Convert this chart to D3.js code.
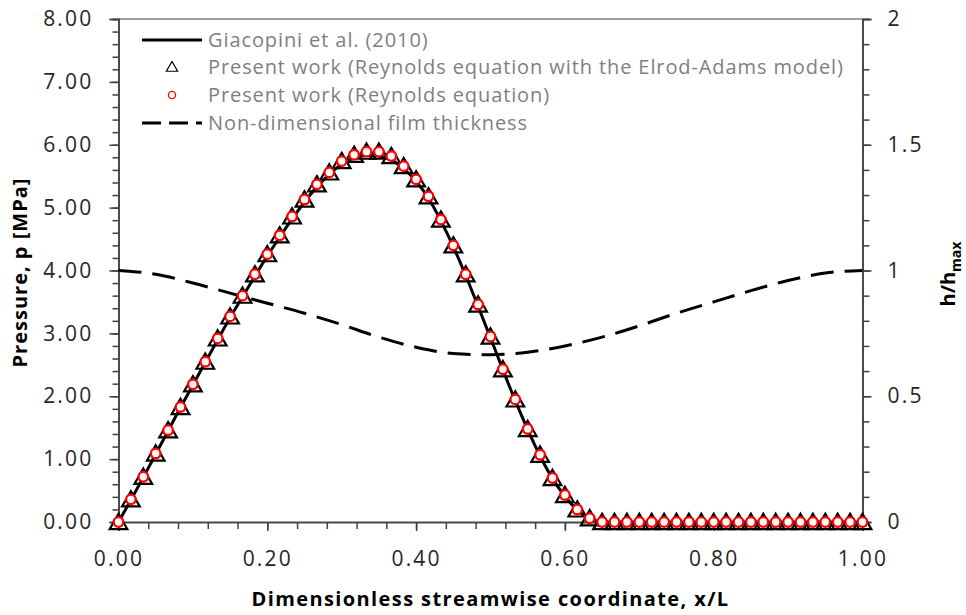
<!DOCTYPE html>
<html>
<head>
<meta charset="utf-8">
<script src="https://cdn.jsdelivr.net/npm/d3@7"></script>
<style>
  body { margin: 0; background: #fff; }
  svg text { font-family: "Open Sans", "Noto Sans", sans-serif; }
</style>
</head>
<body>
<svg id="chart" width="966" height="615"></svg>
<script>
// streamwise positions of the simulation nodes (x/L), 61 points
const xNodes = d3.range(61).map(i => i / 60);

// pressure [MPa], one value per node
const reynoldsP = [0, 0.36, 0.72, 1.09, 1.46, 1.83, 2.19, 2.55, 2.92, 3.27,
  3.60, 3.94, 4.26, 4.56, 4.86, 5.13, 5.37, 5.56, 5.74, 5.84,
  5.89, 5.89, 5.82, 5.66, 5.45, 5.18, 4.81, 4.40, 3.94, 3.46,
  2.95, 2.43, 1.95, 1.48, 1.07, 0.70, 0.43, 0.20, 0.06, 0,
  0, 0, 0, 0, 0, 0, 0, 0, 0, 0,
  0, 0, 0, 0, 0, 0, 0, 0, 0, 0, 0];
const elrodP = [0, 0.36, 0.72, 1.09, 1.46, 1.83, 2.19, 2.55, 2.92, 3.27,
  3.60, 3.94, 4.26, 4.56, 4.86, 5.13, 5.37, 5.56, 5.74, 5.84,
  5.89, 5.89, 5.82, 5.66, 5.45, 5.18, 4.81, 4.40, 3.94, 3.46,
  2.95, 2.43, 1.95, 1.48, 1.07, 0.70, 0.43, 0.20, 0.06, 0,
  0, 0, 0, 0, 0, 0, 0, 0, 0, 0,
  0, 0, 0, 0, 0, 0, 0, 0, 0, 0, 0];

// Giacopini et al. (2010) reference curve, same nodes
const giacopiniP = [0, 0.35, 0.71, 1.08, 1.45, 1.82, 2.18, 2.54, 2.90, 3.25,
  3.58, 3.91, 4.23, 4.53, 4.82, 5.09, 5.33, 5.53, 5.69, 5.79,
  5.83, 5.82, 5.76, 5.62, 5.42, 5.15, 4.79, 4.38, 3.92, 3.43,
  2.93, 2.42, 1.93, 1.47, 1.05, 0.69, 0.41, 0.19, 0.05, 0,
  0, 0, 0, 0, 0, 0, 0, 0, 0, 0,
  0, 0, 0, 0, 0, 0, 0, 0, 0, 0, 0];

// non-dimensional film thickness h/hmax (right axis)
const filmX = [0, 0.05, 0.10, 0.15, 0.20, 0.25, 0.30, 0.35, 0.40, 0.45, 0.50,
  0.55, 0.60, 0.65, 0.70, 0.75, 0.80, 0.85, 0.90, 0.95, 1.00];
const filmH = [1.0, 0.985, 0.95, 0.91, 0.87, 0.83, 0.785, 0.735, 0.695, 0.67, 0.665,
  0.675, 0.70, 0.735, 0.78, 0.83, 0.875, 0.92, 0.96, 0.99, 1.0];

const xTicks = [0, 0.2, 0.4, 0.6, 0.8, 1.0];
const pTicks = [0, 1, 2, 3, 4, 5, 6, 7, 8];
const hTicks = [0, 0.5, 1, 1.5, 2];
const hTickLabels = ["0", "0.5", "1", "1.5", "2"];

const legendLabels = [
  "Giacopini et al. (2010)",
  "Present work (Reynolds equation with the Elrod-Adams model)",
  "Present work (Reynolds equation)",
  "Non-dimensional film thickness"
];

const svg = d3.select("#chart");
const plotLeft = 118.5, plotRight = 862.5, plotTop = 19, plotBottom = 522;
const axisColor = "#404040";

const x = d3.scaleLinear().domain([0, 1]).range([plotLeft, plotRight]);
const yP = d3.scaleLinear().domain([0, 8]).range([plotBottom, plotTop]);
const yH = d3.scaleLinear().domain([0, 2]).range([plotBottom, plotTop]);

// top border
svg.append("line")
  .attr("x1", plotLeft).attr("x2", plotRight).attr("y1", plotTop).attr("y2", plotTop)
  .attr("stroke", "#7f7f7f").attr("stroke-width", 1.5);

function styleAxis(g) {
  g.select(".domain").attr("stroke", axisColor).attr("stroke-width", 1.5);
  g.selectAll(".tick line").attr("stroke", axisColor).attr("stroke-width", 1.5);
  g.selectAll(".tick text").attr("fill", "#262626").style("font-size", "21px")
    .style("letter-spacing", "2.2px")
    .style("font-family", "'Open Sans', sans-serif");
}

// minor ticks first
svg.append("g").attr("transform", `translate(0,${plotBottom})`)
  .call(d3.axisBottom(x).tickValues(d3.range(0, 1.0001, 0.04)).tickSize(7).tickFormat(""))
  .call(styleAxis);
svg.append("g").attr("transform", `translate(${plotLeft},0)`)
  .call(d3.axisLeft(yP).tickValues(d3.range(0, 8.001, 0.2)).tickSize(6).tickFormat(""))
  .call(styleAxis);
svg.append("g").attr("transform", `translate(${plotRight},0)`)
  .call(d3.axisRight(yH).tickValues(d3.range(0, 2.001, 0.1)).tickSize(7).tickFormat(""))
  .call(styleAxis);

// major ticks with labels
svg.append("g").attr("transform", `translate(0,${plotBottom})`)
  .call(d3.axisBottom(x).tickValues(xTicks).tickSize(9).tickPadding(20).tickFormat(d3.format(".2f")))
  .call(styleAxis);
svg.append("g").attr("transform", `translate(${plotLeft},0)`)
  .call(d3.axisLeft(yP).tickValues(pTicks).tickSize(9).tickPadding(16).tickFormat(d3.format(".2f")))
  .call(styleAxis);
svg.append("g").attr("transform", `translate(${plotRight},0)`)
  .call(d3.axisRight(yH).tickValues(hTicks).tickSize(9).tickPadding(16).tickFormat((d, i) => hTickLabels[i]))
  .call(styleAxis);

// axis titles
svg.append("text")
  .attr("x", (plotLeft + plotRight) / 2).attr("y", 606)
  .attr("text-anchor", "middle")
  .style("font-size", "20px").style("font-weight", "bold").style("letter-spacing", "1.4px")
  .text("Dimensionless streamwise coordinate, x/L");

svg.append("text")
  .attr("transform", `translate(27,${(plotTop + plotBottom) / 2 + 2}) rotate(-90)`)
  .attr("text-anchor", "middle")
  .style("font-size", "20px").style("font-weight", "bold").style("letter-spacing", "1px")
  .text("Pressure, p [MPa]");

const hLabel = svg.append("text")
  .attr("transform", `translate(955,274) rotate(-90)`)
  .attr("text-anchor", "middle")
  .style("font-size", "20px").style("font-weight", "bold");
hLabel.append("tspan").text("h/h");
hLabel.append("tspan").attr("dy", 6).style("font-size", "14px").text("max");

// film thickness (dashed, right axis)
svg.append("path")
  .datum(filmX.map((d, i) => [d, filmH[i]]))
  .attr("fill", "none").attr("stroke", "#000").attr("stroke-width", 3)
  .attr("stroke-dasharray", "23,11")
  .attr("d", d3.line().x(d => x(d[0])).y(d => yH(d[1])).curve(d3.curveMonotoneX));

// Elrod-Adams triangles
const tri = d3.symbol().type(d3.symbolTriangle).size(135);
svg.append("g").selectAll("path")
  .data(xNodes.map((d, i) => [d, elrodP[i]]))
  .join("path")
  .attr("transform", d => `translate(${x(d[0])},${yP(d[1]) + 2})`)
  .attr("d", tri)
  .attr("fill", "none").attr("stroke", "#000").attr("stroke-width", 2.2);

// Giacopini line
svg.append("path")
  .datum(xNodes.map((d, i) => [d, giacopiniP[i]]))
  .attr("fill", "none").attr("stroke", "#000").attr("stroke-width", 3)
  .attr("d", d3.line().x(d => x(d[0])).y(d => yP(d[1])).curve(d3.curveMonotoneX));

// Reynolds circles
svg.append("g").selectAll("circle")
  .data(xNodes.map((d, i) => [d, reynoldsP[i]]))
  .join("circle")
  .attr("cx", d => x(d[0])).attr("cy", d => yP(d[1]))
  .attr("r", 4.8)
  .attr("fill", "#fff").attr("stroke", "#ff0000").attr("stroke-width", 2.3);

// legend
const legend = svg.append("g");
const rowY = [40, 67, 95, 123];
legendLabels.forEach((label, i) => {
  const y = rowY[i];
  if (i === 0) {
    legend.append("line").attr("x1", 142).attr("x2", 202).attr("y1", y).attr("y2", y)
      .attr("stroke", "#000").attr("stroke-width", 3);
  } else if (i === 1) {
    legend.append("path").attr("transform", `translate(172,${y + 1})`)
      .attr("d", d3.symbol().type(d3.symbolTriangle).size(55))
      .attr("fill", "none").attr("stroke", "#000").attr("stroke-width", 1.2);
  } else if (i === 2) {
    legend.append("circle").attr("cx", 172).attr("cy", y).attr("r", 3.6)
      .attr("fill", "#fff").attr("stroke", "#ff0000").attr("stroke-width", 1.3);
  } else {
    legend.append("line").attr("x1", 142).attr("x2", 202).attr("y1", y).attr("y2", y)
      .attr("stroke", "#000").attr("stroke-width", 3).attr("stroke-dasharray", "19,8");
  }
  legend.append("text").attr("x", 208).attr("y", y + 7)
    .attr("fill", "#7f7f7f").style("font-size", "20px").style("letter-spacing", "0.9px")
    .text(label);
});
</script>
</body>
</html>
